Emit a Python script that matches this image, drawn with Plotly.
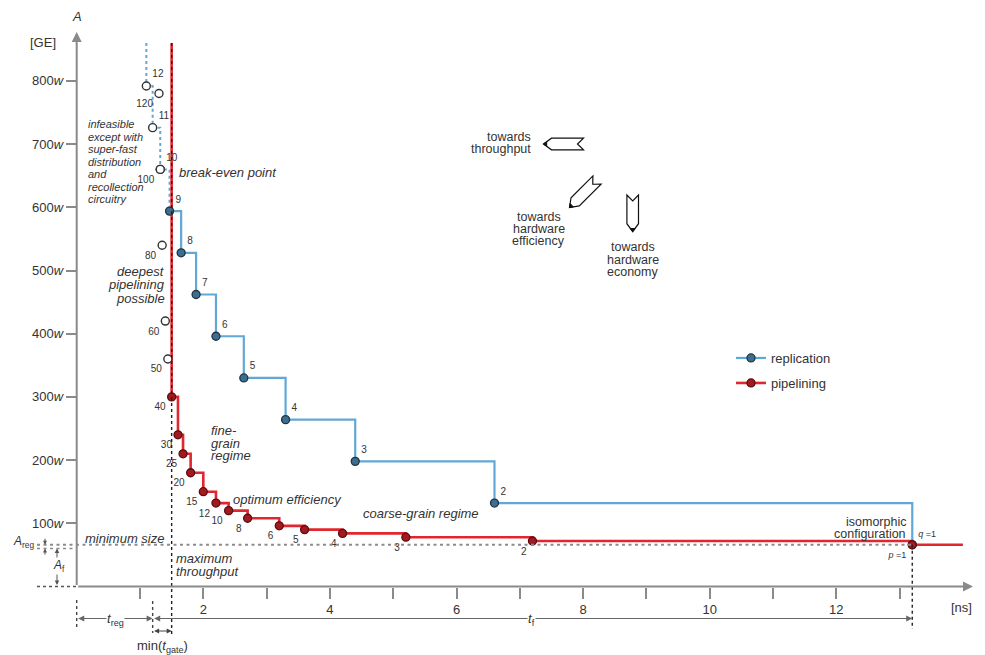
import math
import plotly.graph_objects as go

# ------------------------------------------------------------------ data
# pipelining: number of stages p, longest path delay t [ns], area A [w]
pipe_stages = [40, 30, 25, 20, 15, 12, 10, 8, 6, 5, 4, 3, 2, 1]
pipe_delay = [1.5, 1.6, 1.68, 1.8, 2.0, 2.2, 2.4, 2.7, 3.2, 3.6, 4.2, 5.2, 7.2, 13.2]
pipe_area = [300, 240, 210, 180, 150, 132, 120, 108, 96, 90, 84, 78, 72, 66]

# pipelining beyond the feasible limit (hollow circles)
pipe_infeasible_stages = [50, 60, 80, 100, 120]
pipe_infeasible_delay = [1.44, 1.4, 1.35, 1.32, 1.3]
pipe_infeasible_area = [360, 420, 540, 660, 780]

# replication: number of ways q
repl_ways = [9, 8, 7, 6, 5, 4, 3, 2, 1]
repl_delay = [1.467, 1.65, 1.886, 2.2, 2.64, 3.3, 4.4, 6.6, 13.2]
repl_area = [594, 528, 462, 396, 330, 264, 198, 132, 66]

repl_infeasible_ways = [12, 11, 10]
repl_infeasible_delay = [1.1, 1.2, 1.32]
repl_infeasible_area = [792, 726, 660]

x_tick_vals = list(range(1, 14))
x_tick_text = ['', '2', '', '4', '', '6', '', '8', '', '10', '', '12', '']
y_tick_vals = [100, 200, 300, 400, 500, 600, 700, 800]
y_tick_text = [f"{v}<i>w</i>" for v in y_tick_vals]

t_reg = 1.2          # ns
min_t_gate = 0.3     # ns
t_f = 12.0           # ns
A_f = 60             # w
min_size = 66        # w  (A_f + A_reg)
top_A = 860          # upper end of the limit lines
x_end = 14.0         # end of the pipelining line
t_iso = 13.2         # isomorphic configuration

# ------------------------------------------------------------------ geometry
W, H = 985, 655
X0, SX = 76.7, 63.3      # pixel of t=0, px per ns
Y0, SY = 586.5, 0.632    # pixel of A=0, px per w


def dx(px):
    return (px - X0) / SX


def dy(py):
    return (Y0 - py) / SY


def pxp(px):
    return px / W


def pyp(py):
    return 1 - py / H


FONT = "Liberation Sans, Arial, Helvetica, sans-serif"
TXT = "#333333"
AX = "#8a8a8a"
BLUE = "#62a8d6"
BLUE_M = "#3f6d8c"
BLUE_ML = "#1c3446"
RED = "#e0262e"
RED_M = "#a01a20"
RED_ML = "#5a0c0f"

fig = go.Figure()

# ---- replication (blue) lines
fig.add_trace(go.Scatter(
    x=[repl_infeasible_delay[0]] + repl_infeasible_delay + [repl_delay[0]],
    y=[top_A] + repl_infeasible_area + [repl_area[0]],
    mode='lines', line=dict(color=BLUE, width=2, dash='dot', shape='hv'),
    showlegend=False, hoverinfo='skip'))
fig.add_trace(go.Scatter(
    x=repl_delay, y=repl_area, mode='lines',
    line=dict(color=BLUE, width=2.2, shape='hv'),
    showlegend=False, hoverinfo='skip'))

# ---- pipelining (red) line
fig.add_trace(go.Scatter(
    x=[pipe_delay[0]] + pipe_delay + [x_end],
    y=[top_A] + pipe_area + [pipe_area[-1]],
    mode='lines', line=dict(color=RED, width=2.6, shape='hv'),
    showlegend=False, hoverinfo='skip'))

# ---- markers
q_text = [str(q) for q in repl_ways[:-1]] + ["<i>q</i> =1"]
fig.add_trace(go.Scatter(
    x=repl_delay, y=repl_area, mode='markers+text',
    marker=dict(size=8, color=BLUE_M, line=dict(color=BLUE_ML, width=1.3)),
    text=q_text, textposition='top right',
    textfont=dict(size=[10] * (len(repl_ways) - 1) + [9], color=TXT, family=FONT),
    showlegend=False, hoverinfo='skip', cliponaxis=False))
fig.add_trace(go.Scatter(
    x=repl_infeasible_delay, y=repl_infeasible_area, mode='markers+text',
    marker=dict(size=8, color='white', line=dict(color='#333', width=1.4)),
    text=[str(q) for q in repl_infeasible_ways], textposition='top right',
    textfont=dict(size=10, color=TXT, family=FONT),
    showlegend=False, hoverinfo='skip', cliponaxis=False))
fig.add_trace(go.Scatter(
    x=pipe_infeasible_delay, y=pipe_infeasible_area, mode='markers+text',
    marker=dict(size=8, color='white', line=dict(color='#333', width=1.4)),
    text=[str(p) for p in pipe_infeasible_stages], textposition='bottom left',
    textfont=dict(size=10, color=TXT, family=FONT),
    showlegend=False, hoverinfo='skip', cliponaxis=False))
p_text = [str(p) for p in pipe_stages[:-1]] + ["<i>p</i> =1"]
fig.add_trace(go.Scatter(
    x=pipe_delay, y=pipe_area, mode='markers+text',
    marker=dict(size=8, color=RED_M, line=dict(color=RED_ML, width=1.3)),
    text=p_text, textposition='bottom left',
    textfont=dict(size=[10] * (len(pipe_stages) - 1) + [9], color=TXT, family=FONT),
    showlegend=False, hoverinfo='skip', cliponaxis=False))

# ---- legend entries
fig.add_trace(go.Scatter(
    x=[None], y=[None], mode='lines+markers', name='replication',
    line=dict(color=BLUE, width=2.2),
    marker=dict(size=8, color=BLUE_M, line=dict(color=BLUE_ML, width=1.3)),
    legend='legend'))
fig.add_trace(go.Scatter(
    x=[None], y=[None], mode='lines+markers', name='pipelining',
    line=dict(color=RED, width=2.6),
    marker=dict(size=8, color=RED_M, line=dict(color=RED_ML, width=1.3)),
    legend='legend2'))

# ------------------------------------------------------------------ shapes
shapes = []


def dline(x0, y0, x1, y1, color, width, dash):
    shapes.append(dict(type='line', xref='x', yref='y', x0=x0, y0=y0, x1=x1, y1=y1,
                       line=dict(color=color, width=width, dash=dash), layer='above'))


GRAYDOT = "3px,3.5px"
# minimum size line and left extensions
dline(dx(37), min_size, t_iso, min_size, '#8c8c8c', 2, GRAYDOT)
dline(dx(37), A_f, 0, A_f, '#8c8c8c', 1.5, GRAYDOT)
dline(dx(37), 0, 0, 0, '#555', 1.5, 'dot')
# vertical dotted guides
dline(0, dy(600), 0, dy(627), '#444', 1.4, 'dot')
dline(t_reg, dy(601), t_reg, dy(633), '#444', 1.4, 'dot')
dline(t_reg + min_t_gate, top_A, t_reg + min_t_gate, dy(637), '#222', 1.4, 'dot')
dline(t_iso, min_size, t_iso, dy(629), '#222', 1.4, 'dot')


# pencil-shaped direction arrows (pixel geometry)
def pencil(tip, tail, w=5.8, cone=8.0, notch=6.0):
    tx, ty = tip
    L = math.hypot(tail[0] - tx, tail[1] - ty)
    ux, uy = (tail[0] - tx) / L, (tail[1] - ty) / L
    vx, vy = -uy, ux

    def P(a, b):
        return (tx + ux * a + vx * b, ty + uy * a + vy * b)

    body = [P(0, 0), P(cone, -w), P(L, -w), P(L - notch, 0), P(L, w), P(cone, w)]
    head = [P(0, 0), P(3.2, -2.4), P(3.2, 2.4)]

    def path(pts):
        return 'M ' + ' L '.join(f"{pxp(x):.5f},{pyp(y):.5f}" for x, y in pts) + ' Z'

    shapes.append(dict(type='path', xref='paper', yref='paper', path=path(body),
                       fillcolor='white', line=dict(color='#111', width=1.2), layer='above'))
    shapes.append(dict(type='path', xref='paper', yref='paper', path=path(head),
                       fillcolor='#111', line=dict(color='#111', width=1), layer='above'))


pencil((543.5, 144.0), (583.5, 144.0))
pencil((569.5, 207.5), (597.0, 180.0))
pencil((632.7, 231.7), (632.7, 195.0))

# ------------------------------------------------------------------ annotations
anns = []


def label(text, px, py, size=13, anchor='left', italic=False, bg=None, color=TXT):
    t = f"<i>{text}</i>" if italic else text
    d = dict(text=t, x=pxp(px), y=pyp(py), xref='paper', yref='paper',
             xanchor=anchor, yanchor='middle', showarrow=False,
             font=dict(size=size, color=color, family=FONT), borderpad=0)
    if bg:
        d['bgcolor'] = bg
    anns.append(d)


def arrow(x0, y0, x1, y1, color, width, size=1.0, side='end', head=2):
    anns.append(dict(x=x1, y=y1, ax=x0, ay=y0, xref='x', yref='y', axref='x', ayref='y',
                     text='', showarrow=True, arrowhead=head, startarrowhead=head,
                     arrowsize=size, startarrowsize=size, arrowwidth=width,
                     arrowcolor=color, arrowside=side, standoff=0, startstandoff=0))


# axes with arrow heads
arrow(0, 0, 0, dy(32), AX, 2, 1.0)
arrow(0, 0, dx(973), 0, AX, 2, 1.0)

# dimension arrows
arrow(0, dy(618.5), t_reg, dy(618.5), '#666', 1.1, 1.1, 'end+start')
arrow(t_reg, dy(618.5), t_reg + t_f, dy(618.5), '#666', 1.1, 1.1, 'end+start')
arrow(t_reg, dy(631), t_reg + min_t_gate, dy(631), '#444', 1.1, 0.9, 'end+start')
arrow(dx(57), 0, dx(57), A_f, '#555', 1.0, 0.9, 'end+start')
arrow(dx(45), min_size + 12, dx(45), min_size, '#555', 1.0, 0.8)
arrow(dx(45), A_f - 12, dx(45), A_f, '#555', 1.0, 0.8)

# axis titles
label("<i>A</i>", 77, 17, 13, 'center')
label("[GE]", 43, 43, 13, 'center')
label("[ns]", 961, 607, 13, 'center')

# dimension labels
label("<i>t</i><sub>reg</sub>", 115, 619, 13, 'center', bg='white')
label("<i>t</i><sub>f</sub>", 531, 619, 13, 'center', bg='white')
label("min(<i>t</i><sub>gate</sub>)", 162, 646, 13, 'center')
label("<i>A</i><sub>reg</sub>", 23, 542, 12, 'center')
label("<i>A</i><sub>f</sub>", 59, 566, 12, 'center', bg='white')

# region descriptions
for txt, py in zip(["infeasible", "except with", "super-fast", "distribution", "and",
                    "recollection", "circuitry"],
                   [124, 136.6, 149, 161.6, 174, 186.6, 199.2]):
    label(txt, 86.5, py, 11, 'left', italic=True)
label("break-even point", 178, 172.5, 13, 'left', italic=True)
for txt, py in zip(["deepest", "pipelining", "possible"], [271.7, 285, 298.3]):
    label(txt, 165.5, py, 13, 'right', italic=True)
for txt, py in zip(["fine-", "grain", "regime"], [430, 443, 455.5]):
    label(txt, 209.5, py, 13, 'left', italic=True)
label("optimum efficiency", 231.5, 499, 13, 'left', italic=True)
label("coarse-grain regime", 361.5, 513, 13, 'left', italic=True)
label("minimum size", 83.5, 538, 13, 'left', italic=True)
for txt, py in zip(["maximum", "throughput"], [558.3, 571.7]):
    label(txt, 175, py, 13, 'left', italic=True)
for txt, py in zip(["isomorphic", "configuration"], [521.7, 534.4]):
    label(txt, 907, py, 12.5, 'right')

# direction hints
for txt, py in zip(["towards", "throughput"], [136.5, 148.5]):
    label(txt, 532, py, 12.5, 'right')
for txt, py in zip(["towards", "hardware", "efficiency"], [216.7, 228.5, 240.7]):
    label(txt, 538.5, py, 12.5, 'center')
for txt, py in zip(["towards", "hardware", "economy"], [246.7, 259.5, 272.3]):
    label(txt, 632.8, py, 12.5, 'center')

# ------------------------------------------------------------------ layout
leg_common = dict(xanchor='left', yanchor='middle', bgcolor='rgba(0,0,0,0)', borderwidth=0,
                  font=dict(size=13, color=TXT, family=FONT))
fig.update_layout(
    width=W, height=H, margin=dict(l=0, r=0, t=0, b=0),
    paper_bgcolor='white', plot_bgcolor='white',
    font=dict(family=FONT, color=TXT),
    xaxis=dict(range=[dx(0), dx(W)], domain=[0, 1], anchor='free', position=pyp(Y0),
               showline=False, showgrid=False, zeroline=False,
               ticks='outside', ticklen=11, tickwidth=2, tickcolor=AX,
               tickvals=x_tick_vals, ticktext=x_tick_text,
               tickfont=dict(size=13, color=TXT, family=FONT), fixedrange=True),
    yaxis=dict(range=[dy(H), dy(0)], domain=[0, 1], anchor='free', position=pxp(X0),
               showline=False, showgrid=False, zeroline=False,
               ticks='outside', ticklen=11, tickwidth=2, tickcolor=AX,
               tickvals=y_tick_vals, ticktext=y_tick_text,
               tickfont=dict(size=13, color=TXT, family=FONT), fixedrange=True),
    legend=dict(x=pxp(731), y=pyp(358), **leg_common),
    legend2=dict(x=pxp(731), y=pyp(383), **leg_common),
    shapes=shapes, annotations=anns, showlegend=True,
)

fig.write_html("out.html", config={'displayModeBar': False},
               post_script="document.body.style.margin='0';document.body.style.overflow='hidden';")
